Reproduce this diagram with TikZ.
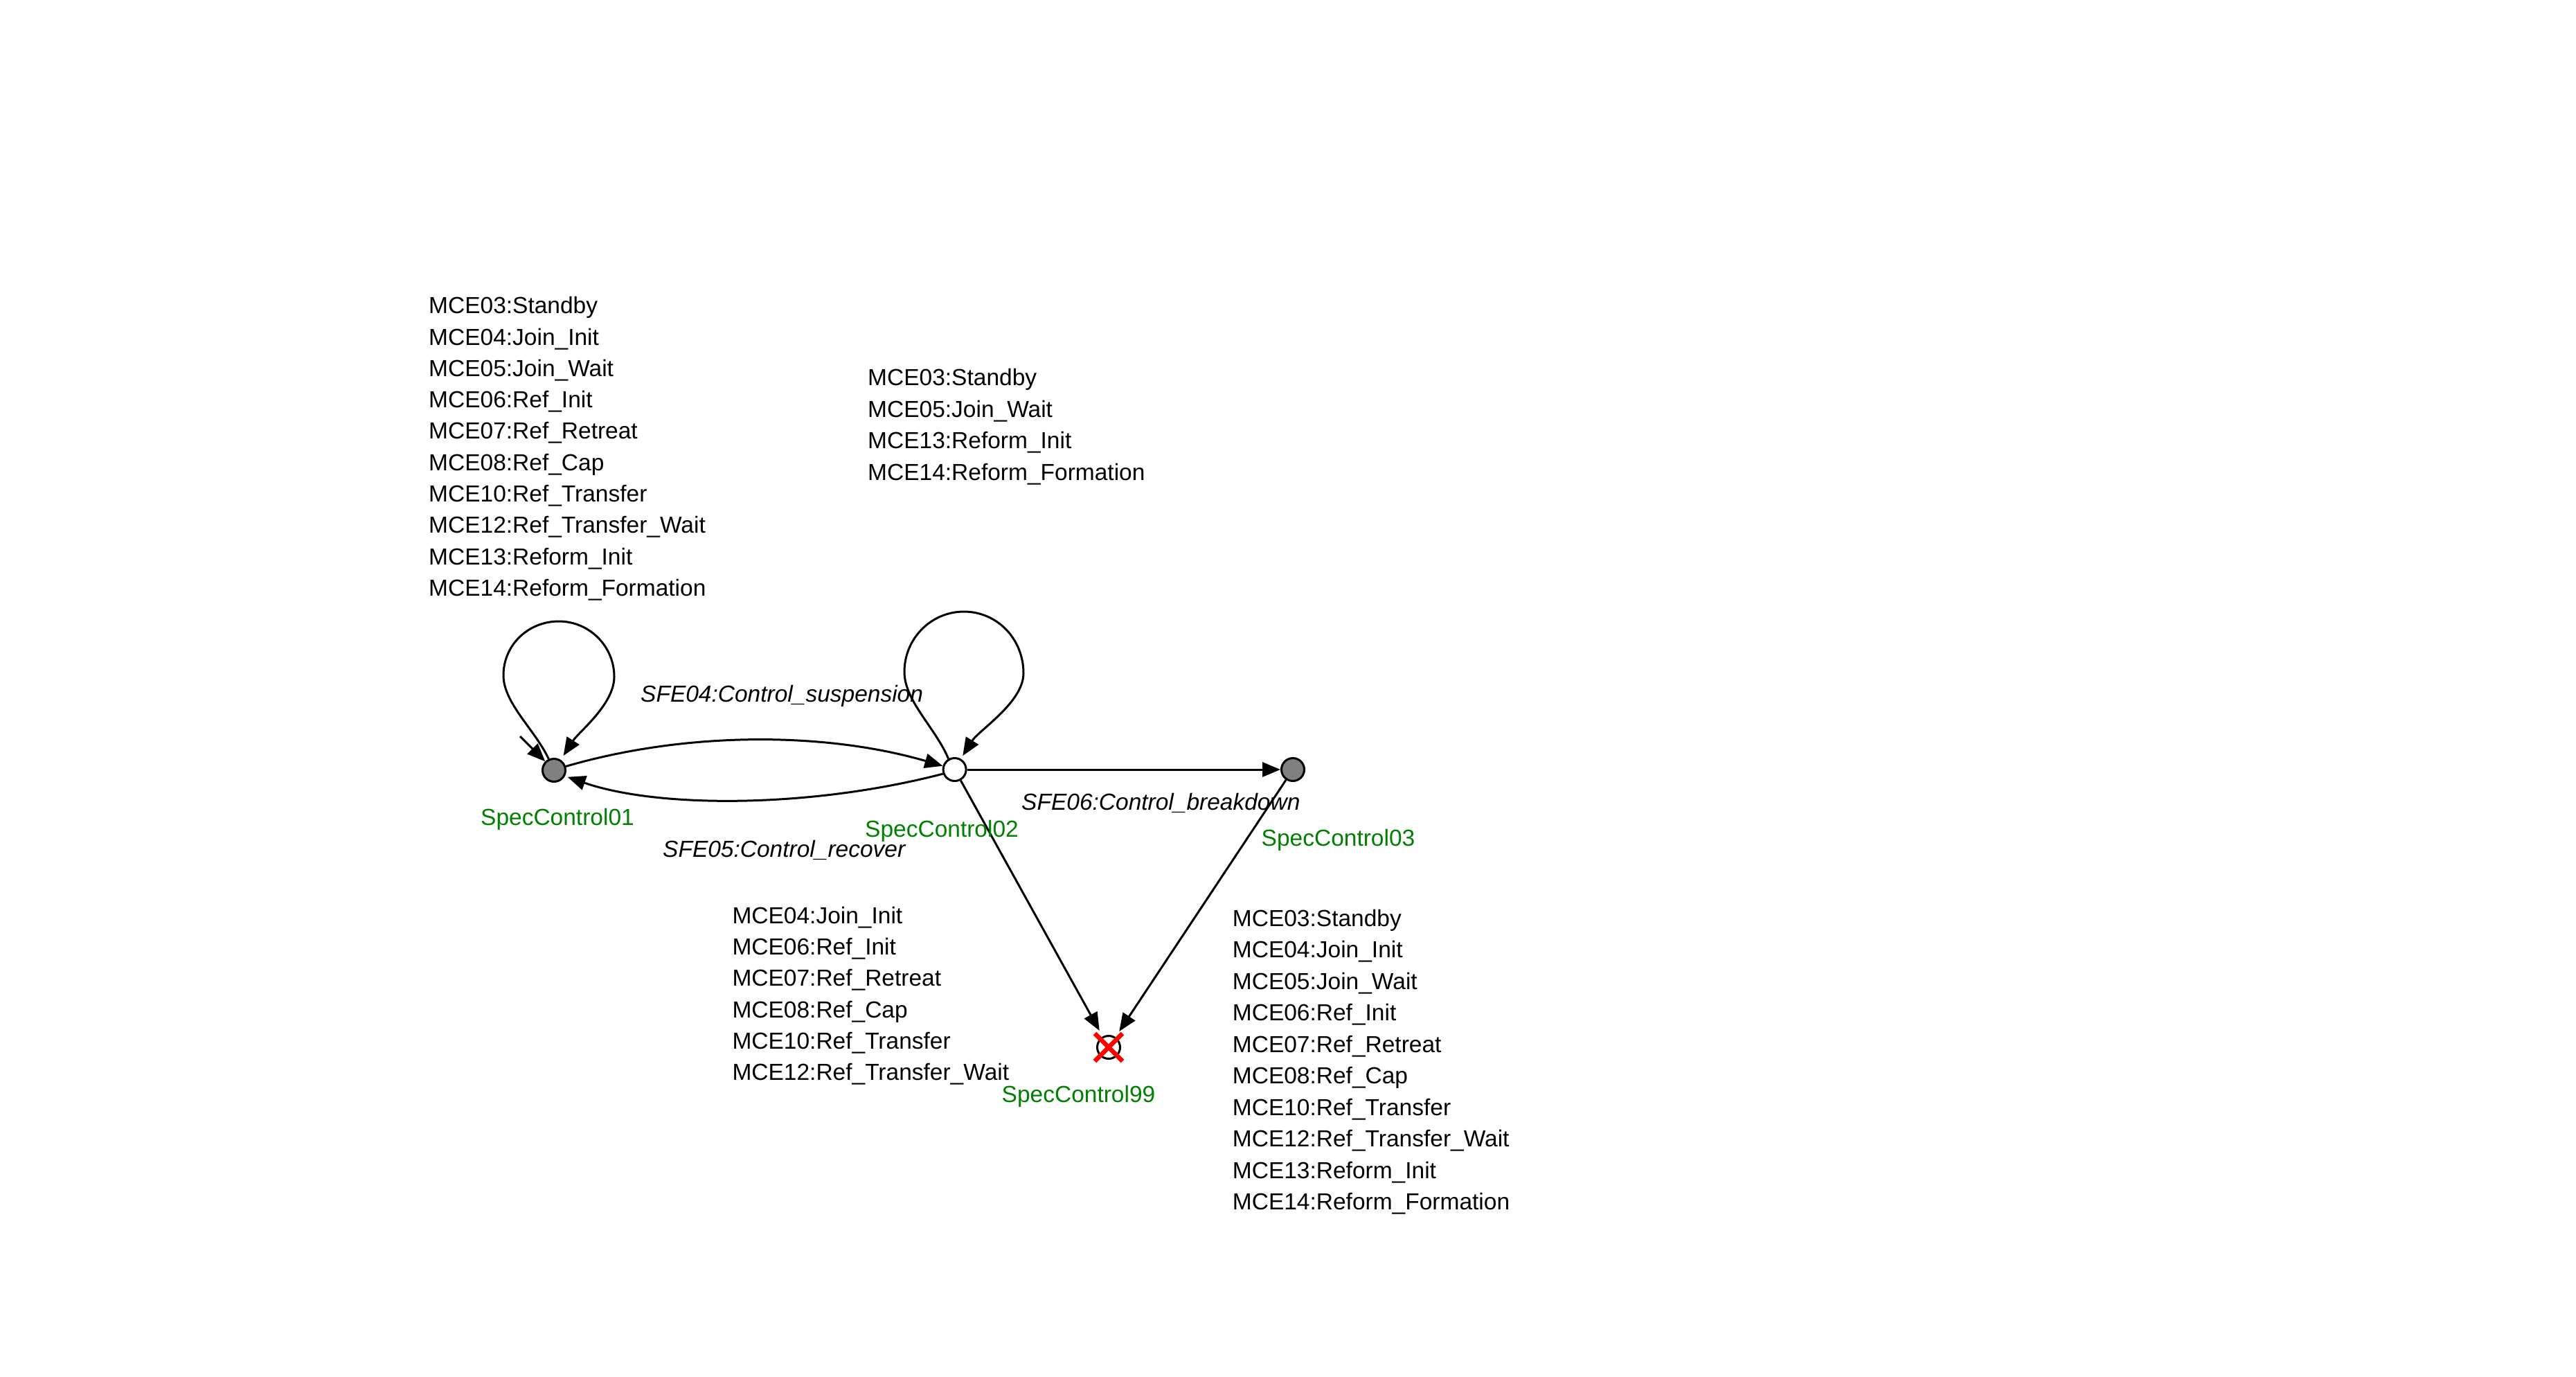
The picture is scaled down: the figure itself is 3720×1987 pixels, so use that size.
\documentclass[tikz,border=0pt]{standalone}
\usepackage{fontspec}
\setmainfont{Liberation Sans}
\usetikzlibrary{arrows.meta}
\definecolor{lblgreen}{RGB}{0,128,0}
\definecolor{stategray}{RGB}{128,128,128}
\begin{document}
\begin{tikzpicture}[x=1pt,y=-1pt,
  state/.style={circle,draw=black,line width=3pt,minimum size=33pt,inner sep=0pt},
  edge/.style={line width=3pt,-{Triangle[length=26pt,width=21pt]}},
  txt/.style={anchor=base west,inner sep=0pt,font=\fontsize{33.5}{40}\selectfont},
  lbl/.style={anchor=base west,inner sep=0pt,font=\fontsize{33.5}{40}\selectfont\itshape},
  sname/.style={txt,text=lblgreen}]
\useasboundingbox[fill=white] (0,0) rectangle (3720,1987);

% states
\node[state,fill=stategray] (n1) at (800,1112) {};
\node[state,fill=white] (n2) at (1378.6,1111) {};
\node[state,fill=stategray] (n3) at (1867,1111) {};
\node[state,fill=white,outer sep=11pt] (n99) at (1601,1512) {};

% initial arrow
\coordinate (init) at (751,1063);
\draw[edge] (init) -- (n1);

% self loops
\draw[edge,shorten >=7pt] (n1.115) .. controls (771.9,1052.7) and (727,1015) .. (727,975)
  .. controls (727,931) and (763,897) .. (807,897)
  .. controls (851,897) and (887,933) .. (887,977)
  .. controls (887,1017) and (835.7,1056.6) .. (n1.57);
\draw[edge,shorten >=5pt] (n2.120) .. controls (1350.9,1050.7) and (1306,1012) .. (1306,970)
  .. controls (1306,922) and (1344.5,883) .. (1392,883)
  .. controls (1439.5,883) and (1478,922) .. (1478,972)
  .. controls (1478,1014) and (1413.4,1054.2) .. (n2.60);

% transitions
\draw[edge] (n1.18) .. controls (990,1056) and (1190,1056) .. (n2.163);
\draw[edge,shorten >=4pt] (n2.200) .. controls (1170,1167) and (950,1167) .. (n1.-28);
\draw[edge] (n2) -- (n3);
\draw[edge] (n2) -- (n99);
\draw[edge] (n3) -- (n99);

% final state cross
\draw[red,line width=6.5pt] ([shift={(-20,-20)}]n99.center) -- ([shift={(20,20)}]n99.center);
\draw[red,line width=6.5pt] ([shift={(20,-20)}]n99.center) -- ([shift={(-20,20)}]n99.center);

% edge labels
\node[lbl] (e04) at (925,1013) {SFE04:Control\_suspension};
\node[lbl] (e05) at (957,1237) {SFE05:Control\_recover};
\node[lbl] (e06) at (1475,1169.5) {SFE06:Control\_breakdown};

% state names
\node[sname] (s01) at (694,1191) {SpecControl01};
\node[sname] (s02) at (1249,1208.5) {SpecControl02};
\node[sname] (s03) at (1821.5,1221) {SpecControl03};
\node[sname] (s99) at (1446.5,1591) {SpecControl99};

% event lists
\foreach \t [count=\i from 0] in {MCE03:Standby,MCE04:Join\_Init,MCE05:Join\_Wait,MCE06:Ref\_Init,MCE07:Ref\_Retreat,MCE08:Ref\_Cap,MCE10:Ref\_Transfer,MCE12:Ref\_Transfer\_Wait,MCE13:Reform\_Init,MCE14:Reform\_Formation}
  \node[txt] (la\i) at (619,452.7+45.3*\i) {\t};
\foreach \t [count=\i from 0] in {MCE03:Standby,MCE05:Join\_Wait,MCE13:Reform\_Init,MCE14:Reform\_Formation}
  \node[txt] (lb\i) at (1253,556.7+45.5*\i) {\t};
\foreach \t [count=\i from 0] in {MCE04:Join\_Init,MCE06:Ref\_Init,MCE07:Ref\_Retreat,MCE08:Ref\_Cap,MCE10:Ref\_Transfer,MCE12:Ref\_Transfer\_Wait}
  \node[txt] (lc\i) at (1057.3,1333.3+45.3*\i) {\t};
\foreach \t [count=\i from 0] in {MCE03:Standby,MCE04:Join\_Init,MCE05:Join\_Wait,MCE06:Ref\_Init,MCE07:Ref\_Retreat,MCE08:Ref\_Cap,MCE10:Ref\_Transfer,MCE12:Ref\_Transfer\_Wait,MCE13:Reform\_Init,MCE14:Reform\_Formation}
  \node[txt] (ld\i) at (1779.7,1337.3+45.5*\i) {\t};
\end{tikzpicture}
\end{document}
